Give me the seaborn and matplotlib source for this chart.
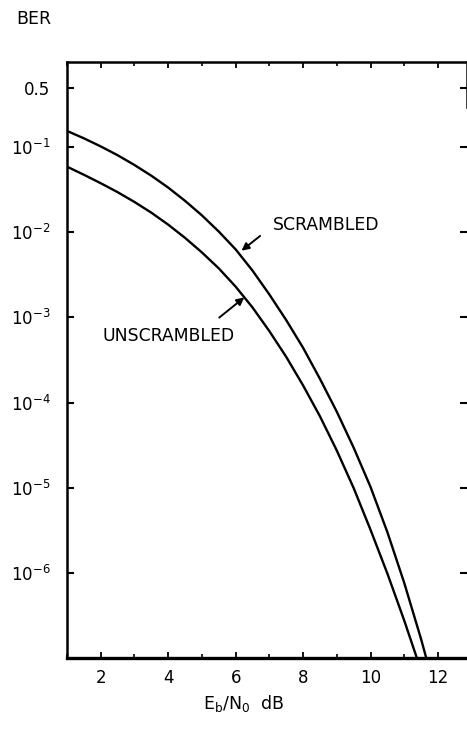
import matplotlib
matplotlib.use("Agg")
import matplotlib.pyplot as plt
import matplotlib.ticker as mticker
import numpy as np
import pandas as pd
import seaborn as sns

# values (Eb/N0 in dB, BER)
ebn0_scr = [1.0, 1.5, 2.0, 2.5, 3.0, 3.5, 4.0, 4.5, 5.0, 5.5, 6.0, 6.5, 7.0, 7.5,
            8.0, 8.5, 9.0, 9.5, 10.0, 10.5, 11.0, 11.5, 11.7]
ber_scr = [0.155, 0.127, 0.102, 0.0804, 0.0617, 0.0462, 0.0335, 0.0234, 0.0158, 0.0102,
           6.3e-3, 3.55e-3, 1.86e-3, 9.3e-4, 4.4e-4, 1.9e-4, 7.8e-5, 2.95e-5,
           1.02e-5, 3.0e-6, 7.6e-7, 1.66e-7, 8.5e-8]

ebn0_uns = [1.0, 1.5, 2.0, 2.5, 3.0, 3.5, 4.0, 4.5, 5.0, 5.5, 6.0, 6.5, 7.0, 7.5,
            8.0, 8.5, 9.0, 9.5, 10.0, 10.5, 11.0, 11.4]
ber_uns = [0.059, 0.0474, 0.0377, 0.0296, 0.0227, 0.0170, 0.0123, 8.6e-3, 5.8e-3, 3.77e-3,
           2.3e-3, 1.31e-3, 6.9e-4, 3.44e-4, 1.59e-4, 6.9e-5, 2.73e-5, 9.9e-6,
           3.2e-6, 9.8e-7, 2.75e-7, 9.3e-8]

ytick_vals = [0.5, 1e-1, 1e-2, 1e-3, 1e-4, 1e-5, 1e-6]
ytick_labels = ["0.5", "$10^{-1}$", "$10^{-2}$", "$10^{-3}$", "$10^{-4}$", "$10^{-5}$", "$10^{-6}$"]
xtick_vals = [2, 4, 6, 8, 10, 12]

df = pd.concat([
    pd.DataFrame({"ebn0": ebn0_scr, "ber": ber_scr, "curve": "SCRAMBLED"}),
    pd.DataFrame({"ebn0": ebn0_uns, "ber": ber_uns, "curve": "UNSCRAMBLED"}),
])

sns.set_style("ticks")
plt.rcParams["font.family"] = ["DejaVu Sans"]
plt.rcParams["mathtext.fontset"] = "dejavusans"
plt.rcParams["text.color"] = "black"

fig = plt.figure(figsize=(4.67, 7.33), dpi=100)
ax = fig.add_axes([67 / 467, 75 / 733, 400 / 467, 596 / 733])

sns.lineplot(data=df, x="ebn0", y="ber", hue="curve",
             palette={"SCRAMBLED": "black", "UNSCRAMBLED": "black"},
             legend=False, linewidth=1.7, ax=ax)

ax.set_yscale("log")
ax.set_xlim(1, 12.86)
ax.set_ylim(1e-7, 1)

ax.set_yticks(ytick_vals)
ax.set_yticklabels(ytick_labels)
ax.yaxis.set_minor_locator(mticker.NullLocator())
ax.set_xticks(xtick_vals)
ax.set_xticks(np.arange(1, 13), minor=True)

ax.tick_params(axis="both", which="both", direction="in", colors="black",
               labelsize=12, top=True, right=True)
ax.tick_params(axis="y", which="major", length=5, width=1.5, pad=12)
ax.tick_params(axis="x", which="major", length=4, width=1.3, pad=8)
ax.tick_params(axis="x", which="minor", length=3, width=1.2)

for name, sp in ax.spines.items():
    sp.set_color("black")
    sp.set_linewidth(1.8)
ax.spines["bottom"].set_linewidth(2.4)
ax.spines["right"].set_bounds(0.3, 1)

ax.set_xlabel("")
ax.set_ylabel("")

# curve labels with leader arrows
ax.text(7.09, 0.0121, "SCRAMBLED", fontsize=12.4, va="center", ha="left")
ax.annotate("", xy=(6.11, 5.8e-3), xytext=(6.79, 9.5e-3),
            arrowprops=dict(arrowstyle="-|>", color="black", lw=1.4, mutation_scale=11))
ax.text(2.06, 6.1e-4, "UNSCRAMBLED", fontsize=12.4, va="center", ha="left")
ax.annotate("", xy=(6.32, 1.8e-3), xytext=(5.45, 9.5e-4),
            arrowprops=dict(arrowstyle="-|>", color="black", lw=1.4, mutation_scale=11))

fig.text(16 / 467, 1 - 19 / 733, "BER", fontsize=12.5, va="center", ha="left")
fig.text(244 / 467, 1 - 704 / 733, r"$\mathregular{E_b/N_0}$  dB", fontsize=12.5,
         va="center", ha="center")

fig.savefig("out.png", dpi=100)
plt.close(fig)
